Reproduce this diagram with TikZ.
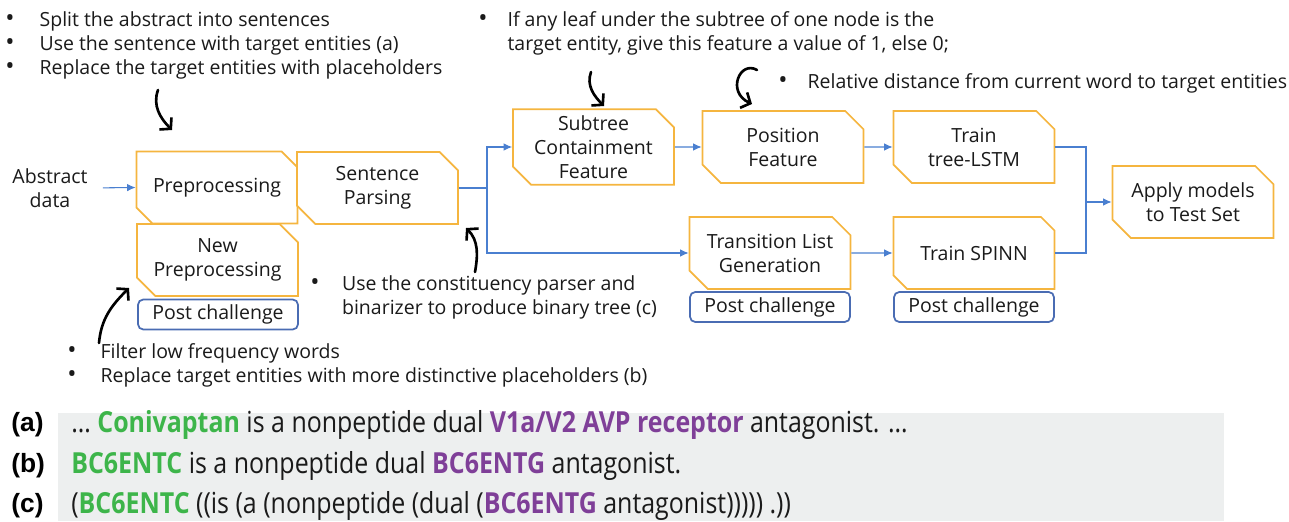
\documentclass[tikz,border=0pt]{standalone}
\usepackage{fontspec}
\setmainfont{Open Sans}
\newfontfamily\tagfont{Liberation Sans}
\newfontfamily\samplefont[FakeStretch=0.86]{Open Sans}
\usepackage{tikz}
\usetikzlibrary{positioning,arrows.meta,shapes.misc}
\usepackage{xcolor}
\definecolor{stageline}{HTML}{F5B53F}
\definecolor{postline}{HTML}{4A6CB3}
\definecolor{flowline}{HTML}{4A7FD0}
\definecolor{inktext}{HTML}{1A1A1A}
\definecolor{entgreen}{HTML}{3DB54A}
\definecolor{entpurple}{HTML}{7F3F98}
\definecolor{samplebg}{HTML}{EDEFEF}

\tikzset{
  stage/.style={chamfered rectangle, chamfered rectangle corners={north east,south west},
    chamfered rectangle xsep=0.24cm, draw=stageline, line width=1pt, fill=white,
    minimum width=3.22cm, minimum height=1.44cm, inner sep=0pt, align=center, text=inktext},
  postbox/.style={draw=postline, line width=1pt, rounded corners=3pt,
    minimum width=3.2cm, minimum height=0.6cm, inner sep=0pt, text=inktext},
  flow/.style={draw=flowline, line width=0.6pt, -{Latex[length=1.7mm,width=1.5mm]}},
  remark/.style={text=inktext, inner sep=0pt, align=left},
  hint/.style={line width=1.5pt, line cap=round, -{Straight Barb[length=1.5mm,width=3.4mm]}},
}
\newcommand{\ent}[2]{{\bfseries\color{#1}#2}}
\newcommand{\dotmark}{{\fontsize{14}{13.7}\selectfont\textbullet}}

\begin{document}
\begin{tikzpicture}[font=\fontsize{11.1}{13.7}\selectfont]
\useasboundingbox (0,0) rectangle (25.78,-10.42);

% pipeline stages
\node[remark, align=center] (abstract) at (1.0,-3.76) {Abstract\\data};
\node[stage] (pre) at (4.34,-3.75) {Preprocessing};
\node[stage] (newpre) at (4.35,-5.2) {New\\Preprocessing};
\node[postbox] (postA) at (4.36,-6.29) {Post challenge};
\node[stage] (parse) at (7.55,-3.76) {Sentence\\Parsing};
\node[stage] (subtree) at (11.87,-2.94) {Subtree\\Containment\\Feature};
\node[stage] (position) at (15.66,-2.94) {Position\\Feature};
\node[stage] (lstm) at (19.48,-2.94) {Train\\tree-LSTM};
\node[stage] (trans) at (15.4,-5.06) {Transition List\\Generation};
\node[postbox] (postB) at (15.4,-6.14) {Post challenge};
\node[stage] (spinn) at (19.48,-5.06) {Train SPINN};
\node[postbox] (postC) at (19.48,-6.14) {Post challenge};
\node[stage] (apply) at (23.86,-4.04) {Apply models\\to Test Set};

% blue flow
\draw[flow, shorten <=0.3cm] (abstract.east) -- (pre.west);
\coordinate (split) at (9.74,-3.76);
\draw[draw=flowline, line width=0.6pt] (parse.east) -- (split);
\draw[flow] (split) |- (subtree.west);
\draw[flow] (split) |- (trans.west);
\draw[flow] (subtree) -- (position);
\draw[flow] (position) -- (lstm);
\draw[flow] (trans) -- (spinn);
\coordinate (merge) at (21.72,-4.04);
\draw[draw=flowline, line width=0.6pt] (lstm.east) -| (merge);
\draw[draw=flowline, line width=0.6pt] (spinn.east) -| (merge);
\draw[flow] (merge) -- (apply.west);

% notes
\node[remark, anchor=west] (prenote) at (0.1,-0.92) {\begin{tabular}{@{}l@{\hspace{0.5cm}}l@{}}
\dotmark & Split the abstract into sentences\\
\dotmark & Use the sentence with target entities (a)\\
\dotmark & Replace the target entities with placeholders
\end{tabular}};
\node[remark, anchor=west] (subnote) at (9.56,-0.68) {\begin{tabular}{@{}l@{\hspace{0.4cm}}l@{}}
\dotmark & If any leaf under the subtree of one node is the\\
 & target entity, give this feature a value of 1, else 0;
\end{tabular}};
\node[remark, anchor=west] (posnote) at (15.56,-1.68) {\begin{tabular}{@{}l@{\hspace{0.4cm}}l@{}}
\dotmark & Relative distance from current word to target entities
\end{tabular}};
\node[remark, anchor=west] (parsenote) at (6.2,-5.96) {\begin{tabular}{@{}l@{\hspace{0.45cm}}l@{}}
\dotmark & Use the constituency parser and\\
 & binarizer to produce binary tree (c)
\end{tabular}};
\node[remark, anchor=west] (newnote) at (1.34,-7.32) {\begin{tabular}{@{}l@{\hspace{0.48cm}}l@{}}
\dotmark & Filter low frequency words\\
\dotmark & Replace target entities with more distinctive placeholders (b)
\end{tabular}};

% black hints
\coordinate (h1a) at (3.16,-1.8);   \coordinate (h1b) at (3.44,-2.6);
\coordinate (h2a) at (11.82,-1.44); \coordinate (h2b) at (12.08,-2.12);
\coordinate (h3a) at (15.14,-1.4);  \coordinate (h3b) at (15.04,-2.08);
\coordinate (h4a) at (9.5,-5.44);   \coordinate (h4b) at (9.32,-4.56);
\coordinate (h5a) at (1.98,-6.86);  \coordinate (h5b) at (2.58,-5.76);
\draw[hint] (h1a) to[out=250,in=135] (h1b);
\draw[hint] (h2a) to[out=250,in=135] (h2b);
\draw[hint] (h3a) .. controls (14.8,-1.2) and (14.52,-1.84) .. (h3b);
\draw[hint] (h4a) to[out=80,in=-45] (h4b);
\draw[hint] (h5a) to[out=85,in=225] (h5b);

% examples
\fill[samplebg] (1.16,-8.26) rectangle (24.48,-10.42);
\node[anchor=west, inner sep=0pt] (tagA) at (0.22,-8.5) {\tagfont\bfseries\fontsize{15}{15}\selectfont (a)};
\node[anchor=west, inner sep=0pt] (tagB) at (0.22,-9.32) {\tagfont\bfseries\fontsize{15}{15}\selectfont (b)};
\node[anchor=west, inner sep=0pt] (tagC) at (0.22,-10.12) {\tagfont\bfseries\fontsize{15}{15}\selectfont (c)};
\begin{scope}[every node/.style={anchor=west, inner sep=0pt, text=inktext, font=\samplefont\fontsize{16.5}{16.5}\selectfont}]
\node (lineA) at (1.42,-8.5) {\dots{} \ent{entgreen}{Conivaptan} is a nonpeptide dual \ent{entpurple}{V1a/V2 AVP receptor} antagonist. \dots};
\node (lineB) at (1.42,-9.32) {\ent{entgreen}{BC6ENTC} is a nonpeptide dual \ent{entpurple}{BC6ENTG} antagonist.};
\node (lineC) at (1.42,-10.12) {(\ent{entgreen}{BC6ENTC} ((is (a (nonpeptide (dual (\ent{entpurple}{BC6ENTG} antagonist))))) .))};
\end{scope}
\end{tikzpicture}
\end{document}
